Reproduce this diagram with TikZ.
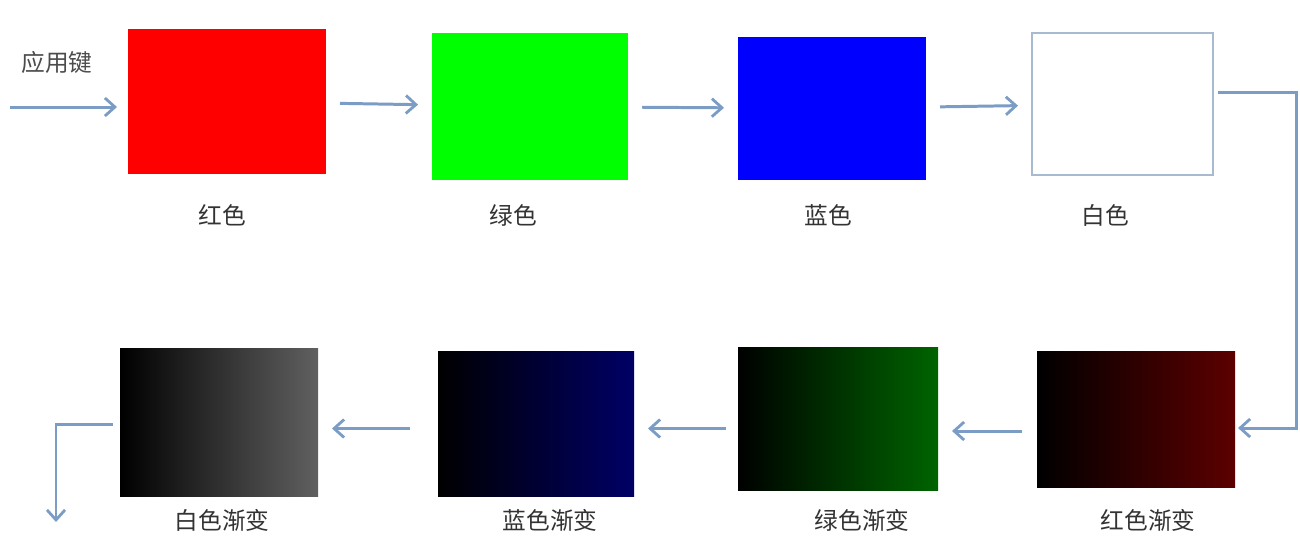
\documentclass[tikz,border=0pt]{standalone}
\usepackage{fontspec}
\newfontfamily\cjk{Noto Sans CJK SC}
\usetikzlibrary{arrows.meta}
\definecolor{linkblue}{HTML}{7B9CC4}
\definecolor{framegray}{HTML}{A8BAD0}
\definecolor{gradred}{HTML}{5C0000}
\definecolor{gradgreen}{HTML}{006400}
\definecolor{gradblue}{HTML}{000066}
\definecolor{gradgray}{HTML}{606060}
\tikzset{
  box/.style 2 args={minimum width=#1*0.02cm,minimum height=#2*0.02cm,inner sep=0pt,outer sep=0pt},
  lab/.style={font=\cjk\fontsize{13.5}{15}\selectfont,text=black!80,inner sep=0pt},
  link/.style={draw=linkblue,line width=1.7pt,-{Straight Barb[length=0.2cm,width=0.36cm,line width=1.6pt]},
    shorten <=0.28cm,shorten >=0.28cm}
}
\begin{document}
\begin{tikzpicture}[x=0.02cm,y=-0.02cm]
\useasboundingbox (0,0) rectangle (1300,535);
%
\foreach \n/\x/\y/\w/\h/\c/\t/\tx in {red/227/101.5/198/145/red/红色/222,
  green/530/106.5/196/147/green/绿色/513,blue/832/108.5/188/143/blue/蓝色/828}
  {\node[box={\w}{\h},fill=\c] (\n) at (\x,\y) {};
   \node[lab] (\n-t) at (\tx,215) {\t};}
\node[box={181}{142},draw=framegray,line width=1pt,fill=white] (white) at (1122.5,104) {};
\node[lab] (white-t) at (1105,215) {白色};
%
\foreach \n/\x/\y/\w/\h/\c/\t/\tx in {rgrad/1136/419/198/136/gradred/红色渐变/1148,
  ggrad/838/418.5/200/143/gradgreen/绿色渐变/862,bgrad/536/423.5/196/145/gradblue/蓝色渐变/550,
  gray/219/422/198/148/gradgray/白色渐变/222}
  {\node[box={\w}{\h},left color=black,right color=\c] (\n) at (\x,\y) {};
   \node[lab] (\n-t) at (\tx,520) {\t};}
%===========================
\node[lab,text=black!70] (key) at (57,62) {应用键};
\coordinate (in) at (10,107);
\draw[link,shorten <=0pt,shorten >=0.22cm] (in) -- (red.west|-in);
\foreach \a/\b in {red/green,green/blue,blue/white}{\draw[link] (\a) -- (\b);}
%
\coordinate (turn) at (1296,92);
\draw[link,shorten <=0.1cm,shorten >=0.06cm] (white.east|-turn) -- (turn) |- ([yshift=-0.18cm]rgrad.east);
\foreach \a/\b/\s/\dy in {rgrad/ggrad/0.3/-0.24,ggrad/bgrad/0.24/-0.2,bgrad/gray/0.56/-0.1}
  {\draw[link,shorten <=\s cm] ([yshift=\dy cm]\a.west) -- ([yshift=\dy cm]\a.west -| \b.east);}
%
\coordinate (out) at (56,522);
\draw[link,shorten <=0.14cm,shorten >=0pt] ([yshift=-0.04cm]gray.west) -| (out);
\end{tikzpicture}
\end{document}
